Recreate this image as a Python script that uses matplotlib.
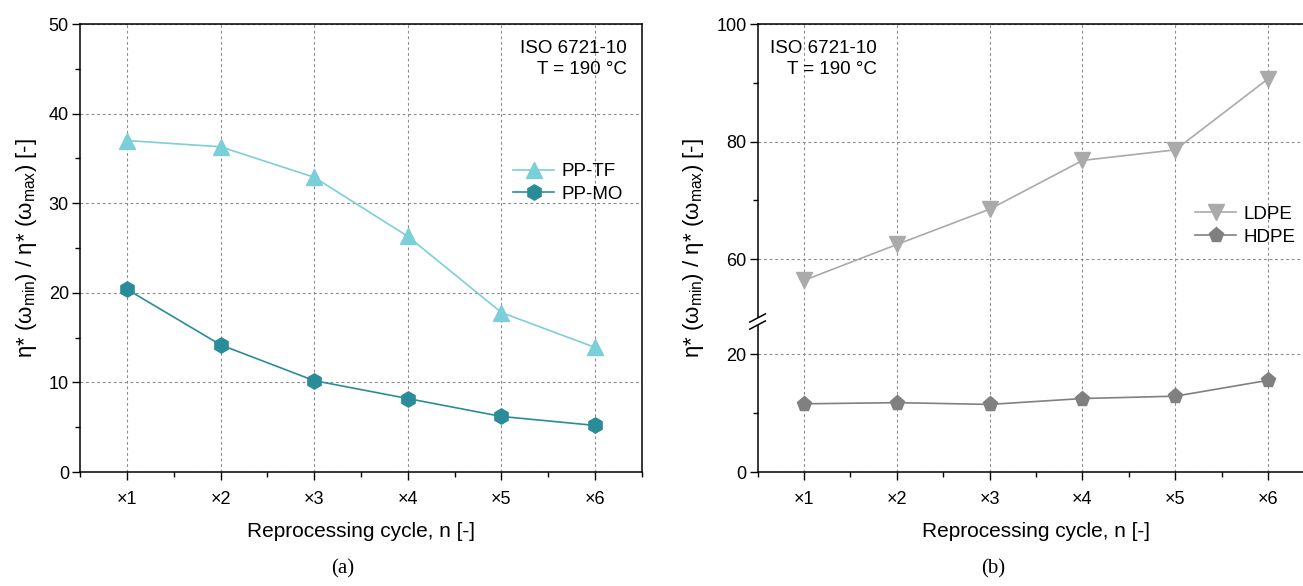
import numpy as np
import matplotlib
matplotlib.use("Agg")
import matplotlib.pyplot as plt
from matplotlib.ticker import MultipleLocator, FixedLocator

plt.rcParams['font.family'] = ['Liberation Sans', 'DejaVu Sans']
plt.rcParams['mathtext.fontset'] = 'custom'
plt.rcParams['mathtext.rm'] = 'Liberation Sans'
plt.rcParams['mathtext.it'] = 'Liberation Sans:italic'

# ---- data ----
cycles = [1, 2, 3, 4, 5, 6]
cycle_labels = ['\u00d71', '\u00d72', '\u00d73', '\u00d74', '\u00d75', '\u00d76']

pp_tf = [37.0, 36.3, 32.9, 26.3, 17.8, 13.9]
pp_mo = [20.4, 14.2, 10.2, 8.2, 6.2, 5.2]

ldpe = [56.4, 62.5, 68.5, 76.8, 78.6, 90.7]
hdpe = [11.6, 11.8, 11.5, 12.5, 12.9, 15.6]

ylabel = r'η* (ω$_{\mathrm{min}}$) / η* (ω$_{\mathrm{max}}$) [-]'
xlabel = 'Reprocessing cycle, n [-]'
note = 'ISO 6721-10\nT = 190 \u00b0C'

c_tf = '#7BCFD9'
c_mo = '#2A8C99'
c_ld = '#AAAAAA'
c_hd = '#808080'

fig = plt.figure(figsize=(13.03, 5.86), dpi=100)

TICK_FS = 13
LAB_FS = 15
YLAB_FS = 16


def style_axes(ax):
    ax.set_xlim(0.5, 6.5)
    ax.set_xticks(cycles)
    ax.set_xticklabels(cycle_labels)
    ax.set_xticks(np.arange(0.5, 7.0, 1.0), minor=True)
    ax.tick_params(axis='both', which='major', direction='out', length=6,
                   width=1, labelsize=TICK_FS, top=False, right=False, pad=8)
    ax.tick_params(axis='both', which='minor', direction='out', length=3.5,
                   width=1, top=False, right=False)
    ax.tick_params(axis='y', which='major', pad=2)
    for s in ax.spines.values():
        s.set_linewidth(1.1)
    ax.grid(True, which='major', linestyle=(0, (2.5, 2.5)), color='#8c8c8c',
            linewidth=0.8)
    ax.set_axisbelow(True)
    ax.set_xlabel(xlabel, fontsize=LAB_FS, labelpad=10)
    ax.set_ylabel(ylabel, fontsize=YLAB_FS, labelpad=7)


# ---- panel (a) ----
ax1 = fig.add_axes([0.0614, 0.1945, 0.4313, 0.7645])
ax1.plot(cycles, pp_tf, color=c_tf, lw=1.2, marker='^', ms=11,
         mfc=c_tf, mec=c_tf, label='PP-TF')
ax1.plot(cycles, pp_mo, color=c_mo, lw=1.2, marker='h', ms=11,
         mfc=c_mo, mec=c_mo, label='PP-MO')
ax1.set_ylim(0, 50)
ax1.yaxis.set_major_locator(MultipleLocator(10))
ax1.yaxis.set_minor_locator(MultipleLocator(5))
style_axes(ax1)
ax1.text(0.973, 0.965, note, transform=ax1.transAxes, ha='right', va='top',
         multialignment='right', fontsize=13.5, linespacing=1.3)
ax1.legend(loc='center right', bbox_to_anchor=(0.99, 0.645), frameon=False,
           fontsize=13.5, handlelength=2.2, handletextpad=0.4,
           labelspacing=0.3, borderaxespad=0.3)

# ---- panel (b): broken y axis (0-25 and 50-100) ----
LOW_TOP = 25.0
HIGH_BOT = 50.0
GAP = 1.2


def fwd(y):
    y = np.asarray(y, dtype=float)
    mid = LOW_TOP + (y - LOW_TOP) * GAP / (HIGH_BOT - LOW_TOP)
    return np.where(y <= LOW_TOP, y,
                    np.where(y < HIGH_BOT, mid, y - HIGH_BOT + LOW_TOP + GAP))


def inv(t):
    t = np.asarray(t, dtype=float)
    mid = LOW_TOP + (t - LOW_TOP) * (HIGH_BOT - LOW_TOP) / GAP
    return np.where(t <= LOW_TOP, t,
                    np.where(t < LOW_TOP + GAP, mid,
                             t - LOW_TOP - GAP + HIGH_BOT))


ax2 = fig.add_axes([0.5814, 0.1945, 0.4275, 0.7645])
ax2.set_yscale('function', functions=(fwd, inv))
ax2.plot(cycles, ldpe, color=c_ld, lw=1.2, marker='v', ms=11,
         mfc=c_ld, mec=c_ld, label='LDPE')
ax2.plot(cycles, hdpe, color=c_hd, lw=1.2, marker='p', ms=11,
         mfc=c_hd, mec=c_hd, label='HDPE')
ax2.set_ylim(0, 100)
ax2.yaxis.set_major_locator(FixedLocator([0, 20, 60, 80, 100]))
ax2.yaxis.set_minor_locator(FixedLocator([10, 70, 90]))
ax2.yaxis.set_major_formatter(matplotlib.ticker.FormatStrFormatter('%d'))
ax2.yaxis.set_minor_formatter(matplotlib.ticker.NullFormatter())
style_axes(ax2)
ax2.text(0.022, 0.965, note, transform=ax2.transAxes, ha='left', va='top',
         multialignment='right', fontsize=13.5, linespacing=1.3)
ax2.legend(loc='center right', bbox_to_anchor=(0.99, 0.55), frameon=False,
           fontsize=13.5, handlelength=2.2, handletextpad=0.4,
           labelspacing=0.3, borderaxespad=0.3)

# break marks on the left spine
trans = ax2.get_yaxis_transform()
y_lo, y_hi = LOW_TOP, HIGH_BOT
ax2.plot([0, 0], [y_lo, y_hi], transform=trans, color='white', lw=3,
         clip_on=False, zorder=5, solid_capstyle='butt')
dx = 0.014
for yb in (y_lo, y_hi):
    t = fwd(yb)
    ax2.plot([-dx, dx], [inv(t - 0.7), inv(t + 0.7)], transform=trans,
             color='black', lw=1.1, clip_on=False, zorder=6)

# panel captions
fig.text(0.263, 0.012, '(a)', ha='center', va='bottom', fontsize=15,
         family=['Liberation Serif', 'DejaVu Serif'])
fig.text(0.762, 0.012, '(b)', ha='center', va='bottom', fontsize=15,
         family=['Liberation Serif', 'DejaVu Serif'])

fig.savefig('out.png', dpi=100)
